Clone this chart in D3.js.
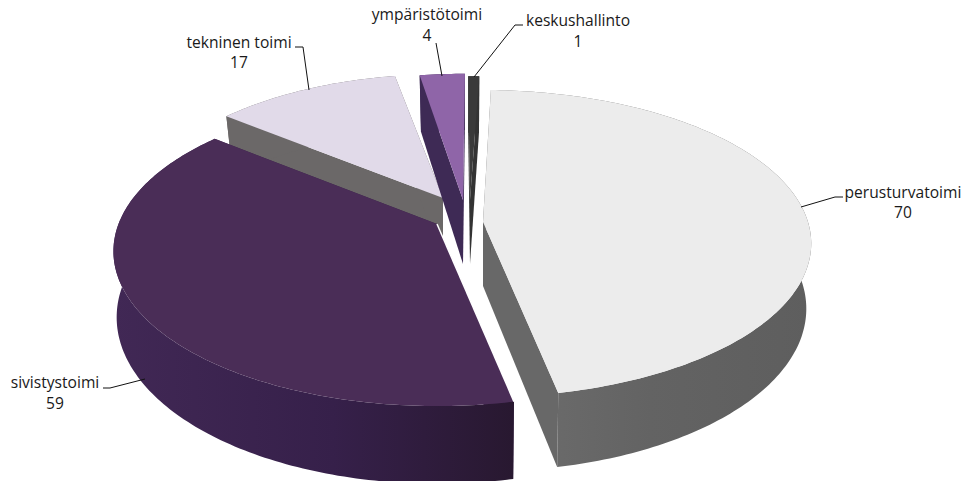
<!DOCTYPE html>
<html><head><meta charset="utf-8">
<script src="https://cdnjs.cloudflare.com/ajax/libs/d3/7.8.5/d3.min.js"></script>
<style>html,body{margin:0;background:#fff}svg{display:block}text{font-family:"Open Sans",sans-serif;font-size:15.6px;fill:#1a1a1a}</style>
</head><body><svg id="c" width="964" height="481"></svg>
<script>
const categories=["keskushallinto","perusturvatoimi","sivistystoimi","tekninen toimi","ympäristötoimi"];
const values=[1,70,59,17,4];
const topColors=["#3a3a3a","#ececec","#4a2d57","#e1dae9","#8f65a8"];
const wallColors=["#333333","#686868","#3a2349","#6b6868","#3e2a55"];
const apexX=[470,483,437,443,463];
const apexY=[200,222,224,198,200];
const sizeScale=[0.93,1,0.98,0.93,0.95];
const perspective=[0.14,0.14,0.18,0.14,0.14];
const depthScale=[150.5,150.5,153,150.5,150.5];
const angleShift=[0.4,0,0,0,1.2];
const bottomShrink=[0.97,0.985,0.99,0.97,0.97];
const paintOrder=[3,4,0,1,2];
const labelX=[578,903,55,239,427];
const labelY=[26,198,388,48,20];
const valueDy=[21,20,21,20,21];
const tipX=[474,801,145,309,442];
const tipY=[77,207,379,90,76];
const elbowX=[515,835,110,303,436];
const elbowY=[25,197,388,47,43];
const leaderX=[523,843,103,295,436];
const leaderY=[25,197,388,47,43];

const R=325,H=64;
const svg=d3.select("#c");
const defs=svg.append("defs");
const grad=defs.append("linearGradient").attr("id","sivWall").attr("x1","0").attr("x2","1").attr("y1","0").attr("y2","0");
grad.append("stop").attr("offset","0").attr("stop-color","#412855");
grad.append("stop").attr("offset","0.55").attr("stop-color","#36204a");
grad.append("stop").attr("offset","1").attr("stop-color","#281830");
const gradP=defs.append("linearGradient").attr("id","perWall").attr("x1","0").attr("x2","1").attr("y1","0").attr("y2","0");
gradP.append("stop").attr("offset","0").attr("stop-color","#6e6e6e");
gradP.append("stop").attr("offset","0.5").attr("stop-color","#636363");
gradP.append("stop").attr("offset","1").attr("stop-color","#5e5e5e");

const arcs=d3.pie().sort(null).startAngle(-0.8*Math.PI/180).endAngle(359.2*Math.PI/180)(values);
const line=d3.line();
function project(i,a,r,drop){
  const t=a+angleShift[i]*Math.PI/180;
  const q=r*sizeScale[i],s=Math.sin(t)*q,u=-Math.cos(t)*q,w=1-perspective[i]*u;
  return [apexX[i]+R*s/w*(drop?bottomShrink[i]:1), apexY[i]+(depthScale[i]*u+(drop?H:0))/w];
}
function rim(i,d,drop){
  const n=Math.max(4,Math.ceil((d.endAngle-d.startAngle)*60));
  return d3.range(n+1).map(k=>project(i,d.startAngle+(d.endAngle-d.startAngle)*k/n,1,drop));
}
const g=svg.append("g");
paintOrder.forEach(i=>{
  const d=arcs[i];
  const wall=i===2?"url(#sivWall)":i===1?"url(#perWall)":wallColors[i];
  const top=rim(i,d,false),bot=rim(i,d,true);
  const ap=project(i,0,0,false),apB=project(i,0,0,true);
  const n=top.length-1;
  [[ap,top[0],bot[0],apB],[ap,top[n],bot[n],apB]].forEach(p=>
    g.append("path").attr("d",line(p)+"Z").attr("fill",wallColors[i]));
  g.append("path").attr("d",line(top.concat(bot.slice().reverse()))+"Z").attr("fill",wall);
  g.append("path").attr("d",line([ap].concat(top))+"Z").attr("fill",topColors[i]);
  if(i===2) g.append("path").attr("d",line([ap,top[0]])).attr("stroke","#fff").attr("stroke-width",1.5).attr("fill","none");
});
arcs.forEach((d,i)=>{
  g.append("path").attr("d",line([[leaderX[i],leaderY[i]],[elbowX[i],elbowY[i]],[tipX[i],tipY[i]]]))
   .attr("fill","none").attr("stroke","#111").attr("stroke-width",1);
  const t=g.append("text").attr("text-anchor","middle").attr("x",labelX[i]).attr("y",labelY[i]);
  t.append("tspan").attr("x",labelX[i]).text(categories[i]);
  t.append("tspan").attr("x",labelX[i]).attr("dy",valueDy[i]).text(values[i]);
});
</script></body></html>
